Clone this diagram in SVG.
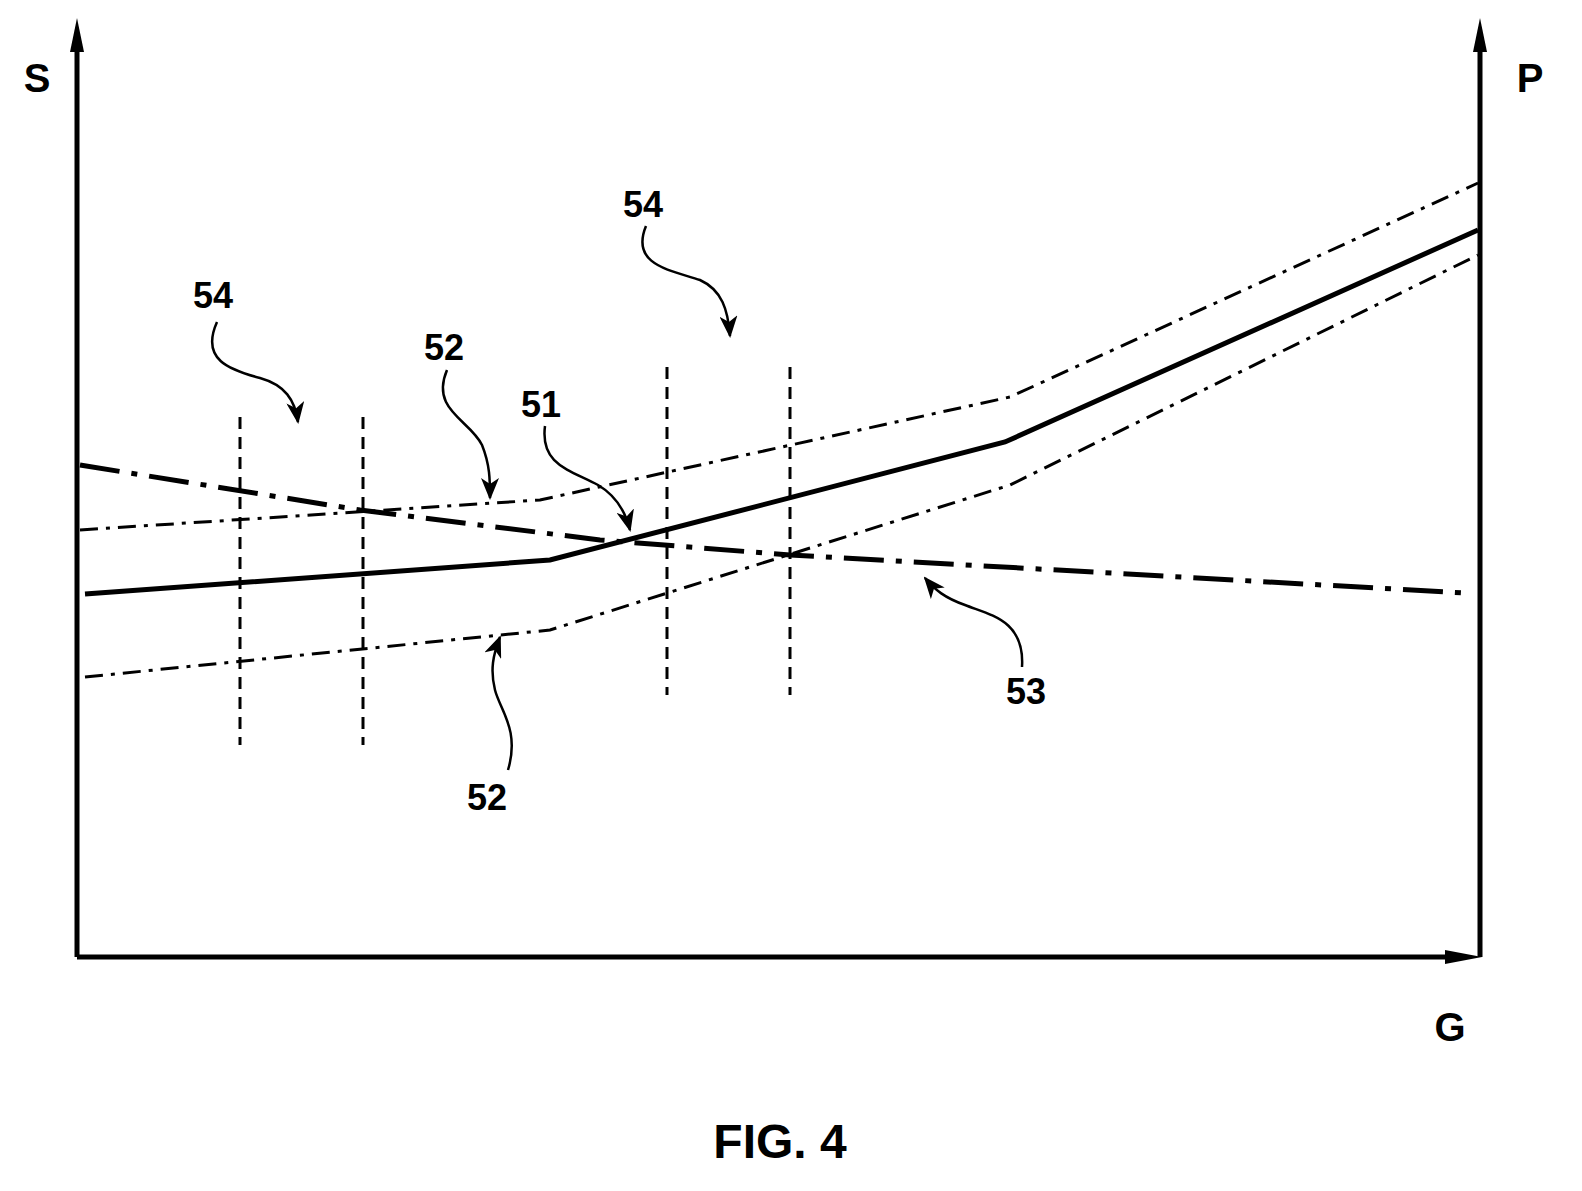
<svg xmlns="http://www.w3.org/2000/svg" width="1582" height="1191" viewBox="0 0 1582 1191">
<style>
.t{font-family:"Liberation Sans",Arial,sans-serif;font-weight:bold;fill:#000}
.ax{stroke:#000;stroke-width:5;fill:none}
.c{fill:none;stroke:#000}
.ld{fill:none;stroke:#000;stroke-width:2.5}
</style>
<defs>
<marker id="ah" markerWidth="10" markerHeight="10" refX="9" refY="5" orient="auto" markerUnits="userSpaceOnUse" viewBox="0 0 10 10"><path d="M0,0 L10,5 L0,10 z"/></marker>
<marker id="lh" markerWidth="22" markerHeight="18" refX="20" refY="9" orient="auto" markerUnits="userSpaceOnUse" viewBox="0 0 22 18"><path d="M0,0 L22,9 L0,18 L6,9 z"/></marker>
</defs>
<rect width="1582" height="1191" fill="#fff"/>
<g id="axes">
<path class="ax" d="M77,957 V50"/><path d="M70,52 L77,18 L84,52 z"/>
<path class="ax" d="M1480,957 V50"/><path d="M1473,52 L1480,18 L1487,52 z"/>
<path class="ax" d="M77,957 H1450"/><path d="M1445,950 L1482,957 L1445,964 z"/>
</g>
<g id="connectors">
<polyline class="c" stroke-width="5" points="85,594 550,560 1005,442 1478,230"/>
<polyline class="c" stroke-width="3" stroke-dasharray="18,8,4,8" points="80,530 540,500 1010,397 1478,183"/>
<polyline class="c" stroke-width="3" stroke-dasharray="18,8,4,8" points="85,677 550,630 1010,485 1478,255"/>
<polyline class="c" stroke-width="5" stroke-dasharray="40,12,6,12" points="80,465 360,510 600,540 790,555 1465,593"/>
<g stroke="#000" stroke-width="3" stroke-dasharray="12,8">
<line x1="240" y1="417" x2="240" y2="745"/><line x1="363" y1="417" x2="363" y2="745"/>
<line x1="667" y1="367" x2="667" y2="695"/><line x1="790" y1="367" x2="790" y2="695"/>
</g>
<path class="ld" marker-end="url(#lh)" d="M217,322 C200,360 230,370 260,378 C285,385 295,400 298,422"/>
<path class="ld" marker-end="url(#lh)" d="M646,226 C630,265 670,270 700,280 C722,290 728,310 730,336"/>
<path class="ld" marker-end="url(#lh)" d="M447,370 C430,410 470,420 482,445 C490,465 490,480 490,498"/>
<path class="ld" marker-end="url(#lh)" d="M545,426 C540,465 570,470 598,485 C615,495 625,510 630,530"/>
<path class="ld" marker-end="url(#lh)" d="M508,770 C520,730 500,710 495,690 C490,670 493,655 500,637"/>
<path class="ld" marker-end="url(#lh)" d="M1022,667 C1025,620 990,615 965,605 C945,598 935,590 925,578"/>
</g>
<g id="labels">
<text class="t" x="37" y="92" font-size="40" text-anchor="middle">S</text>
<text class="t" x="1530" y="92" font-size="40" text-anchor="middle">P</text>
<text class="t" x="1450" y="1041" font-size="40" text-anchor="middle">G</text>
<text class="t" x="780" y="1158" font-size="48" text-anchor="middle">FIG. 4</text>
<text class="t" x="213" y="308" font-size="36" text-anchor="middle">54</text>
<text class="t" x="643" y="217" font-size="36" text-anchor="middle">54</text>
<text class="t" x="444" y="360" font-size="36" text-anchor="middle">52</text>
<text class="t" x="541" y="417" font-size="36" text-anchor="middle">51</text>
<text class="t" x="487" y="810" font-size="36" text-anchor="middle">52</text>
<text class="t" x="1026" y="704" font-size="36" text-anchor="middle">53</text>
</g>
</svg>
